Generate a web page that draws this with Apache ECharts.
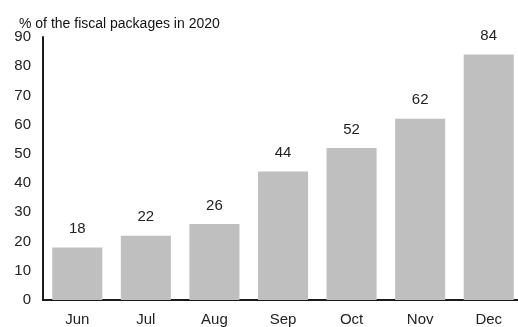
<!DOCTYPE html>
<html>
<head>
<meta charset="UTF-8">
<title></title>
<style type="text/css">
	* { margin: 0; padding: 0; }
	#bar { width: 518px; height: 327px; background: #fff; }
</style>
</head>
<body>
<div id="bar"></div>
<script src="https://cdn.jsdelivr.net/npm/echarts@6/dist/echarts.min.js"></script>
<script type="text/javascript">
	// data
	var months = ['Jun', 'Jul', 'Aug', 'Sep', 'Oct', 'Nov', 'Dec'];
	var shares = [18, 22, 26, 44, 52, 62, 84];
	var yTicks = [0, 10, 20, 30, 40, 50, 60, 70, 80, 90];

	var myChartBar = echarts.init(document.getElementById('bar'));
	var font = 'Liberation Sans, Arial, sans-serif';
	var option = {
		animation: false,
		title: {
			text: '% of the fiscal packages in 2020',
			left: 14,
			top: 12,
			textStyle: { fontFamily: font, fontSize: 14, fontWeight: 'normal', color: '#111' }
		},
		grid: { left: 43, width: 480, top: 37, bottom: 27, outerBoundsMode: 'none', containLabel: false },
		xAxis: {
			type: 'category',
			data: months,
			axisLine: { lineStyle: { color: '#1a1a1a', width: 2 } },
			axisTick: { show: false },
			axisLabel: { fontFamily: font, fontSize: 15, color: '#222', margin: 12 }
		},
		yAxis: {
			type: 'value',
			min: yTicks[0],
			max: yTicks[yTicks.length - 1],
			interval: 10,
			splitLine: { show: false },
			axisLine: { show: true, lineStyle: { color: '#1a1a1a', width: 2 } },
			axisTick: { show: false },
			axisLabel: { fontFamily: font, fontSize: 15, color: '#222', margin: 12 }
		},
		series: [{
			type: 'bar',
			data: shares,
			barCategoryGap: '27%',
			itemStyle: { color: '#bfbfbf' },
			label: {
				show: true,
				position: 'top',
				distance: 11,
				fontFamily: font,
				fontSize: 15,
				color: '#222'
			}
		}]
	};
	myChartBar.setOption(option);
</script>
</body>
</html>
